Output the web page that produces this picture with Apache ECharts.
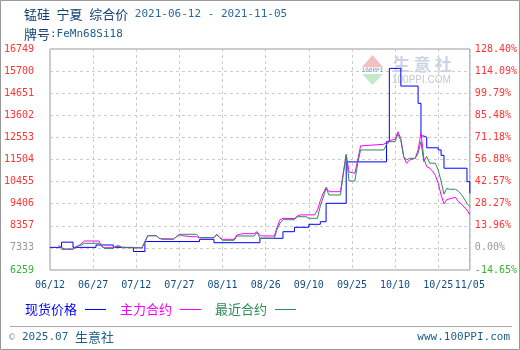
<!DOCTYPE html>
<html><head><meta charset="utf-8">
<script src="https://cdn.jsdelivr.net/npm/echarts@6/dist/echarts.min.js"></script>
<style>html,body{margin:0;padding:0;background:#fff}#c{width:520px;height:350px}</style>
</head><body><div id="c"></div>
<script>
// ---------- data ----------
const startDate = '2021-06-12';
const endDate = '2021-11-05';
const xTickLabels = ['06/12','06/27','07/12','07/27','08/11','08/26','09/10','09/25','10/10','10/25','11/05'];
const leftTickLabels = ['6259','7333','8357','9406','10455','11504','12553','13602','14651','15700','16749'];
const rightTickLabels = ['-14.65%','0.00%','13.96%','28.27%','42.57%','56.88%','71.18%','85.48%','99.79%','114.09%','128.40%'];
const seriesNames = ['现货价格','主力合约','最近合约'];

// 现货价格 (spot, stepped)
const spotDates = ['2021-06-12','2021-06-16','2021-06-20','2021-06-28','2021-07-04','2021-07-11','2021-07-15','2021-08-03','2021-08-08','2021-08-24','2021-09-01','2021-09-05','2021-09-10','2021-09-14','2021-09-16','2021-09-23','2021-10-07','2021-10-08','2021-10-12','2021-10-18','2021-10-19','2021-10-20','2021-10-21','2021-10-25','2021-10-26','2021-10-27','2021-11-04','2021-11-05'];
const spotPrices = [7333,7580,7333,7446,7333,7137,7610,7716,7555,7764,8077,8286,8428,8552,9425,11390,12350,15830,14990,14170,12620,12560,12060,11955,11700,11090,10450,9900];

// 主力合约 (main contract)
const mainDates = ['2021-06-15','2021-06-16','2021-06-17','2021-06-20','2021-06-21','2021-06-22','2021-06-24','2021-06-29','2021-06-30','2021-07-01','2021-07-04','2021-07-06','2021-07-07','2021-07-11','2021-07-14','2021-07-16','2021-07-19','2021-07-20','2021-07-21','2021-07-25','2021-07-26','2021-07-27','2021-07-28','2021-07-31','2021-08-02','2021-08-03','2021-08-08','2021-08-09','2021-08-10','2021-08-11','2021-08-15','2021-08-16','2021-08-18','2021-08-22','2021-08-23','2021-08-24','2021-08-25','2021-08-29','2021-08-30','2021-08-31','2021-09-01','2021-09-05','2021-09-06','2021-09-07','2021-09-12','2021-09-13','2021-09-14','2021-09-15','2021-09-16','2021-09-17','2021-09-21','2021-09-22','2021-09-23','2021-09-24','2021-09-26','2021-09-27','2021-09-28','2021-10-06','2021-10-07','2021-10-08','2021-10-10','2021-10-11','2021-10-12','2021-10-13','2021-10-14','2021-10-15','2021-10-17','2021-10-18','2021-10-19','2021-10-20','2021-10-21','2021-10-22','2021-10-23','2021-10-24','2021-10-25','2021-10-26','2021-10-27','2021-10-28','2021-10-31','2021-11-01','2021-11-02','2021-11-03','2021-11-04','2021-11-05'];
const mainPrices = [7413,7330,7256,7256,7330,7413,7636,7636,7370,7318,7318,7400,7318,7318,7318,7887,7887,7764,7740,7740,7830,7930,7890,7840,7840,7792,7792,7954,7800,7716,7716,7920,7982,7982,8077,7900,7873,7873,8300,8650,8713,8700,8820,8876,8876,9107,9550,9900,10185,9976,9976,10900,11751,10911,10849,11481,12150,12225,12300,12400,12463,12824,12500,11637,11324,11481,11561,11955,12748,11560,11166,11100,10950,10750,10380,9820,9400,9600,9710,9500,9400,9250,9107,8876];

// 最近合约 (nearest contract)
const nearDates = ['2021-06-15','2021-06-16','2021-06-20','2021-06-21','2021-06-23','2021-06-24','2021-06-29','2021-06-30','2021-07-01','2021-07-04','2021-07-05','2021-07-06','2021-07-07','2021-07-14','2021-07-15','2021-07-16','2021-07-19','2021-07-20','2021-07-21','2021-07-25','2021-07-26','2021-07-27','2021-08-02','2021-08-03','2021-08-08','2021-08-09','2021-08-10','2021-08-11','2021-08-15','2021-08-16','2021-08-22','2021-08-23','2021-08-24','2021-08-29','2021-08-30','2021-08-31','2021-09-01','2021-09-05','2021-09-06','2021-09-09','2021-09-10','2021-09-13','2021-09-14','2021-09-15','2021-09-16','2021-09-17','2021-09-21','2021-09-22','2021-09-23','2021-09-24','2021-09-26','2021-09-27','2021-09-28','2021-10-06','2021-10-07','2021-10-08','2021-10-10','2021-10-11','2021-10-12','2021-10-13','2021-10-14','2021-10-15','2021-10-17','2021-10-18','2021-10-19','2021-10-20','2021-10-21','2021-10-22','2021-10-24','2021-10-25','2021-10-26','2021-10-27','2021-10-28','2021-10-29','2021-10-31','2021-11-01','2021-11-02','2021-11-03','2021-11-04','2021-11-05'];
const nearPrices = [7413,7240,7240,7370,7450,7526,7526,7380,7283,7283,7400,7400,7335,7300,7600,7887,7887,7764,7716,7716,7850,7954,7954,7792,7792,7930,7792,7669,7669,7873,7873,8049,7764,7764,8200,8476,8647,8647,8789,8789,8713,8713,9300,9700,10137,9819,9819,10800,11718,10484,10484,11324,11955,11955,12200,12349,12349,12715,12400,11637,11481,11561,11561,11800,12349,11400,11650,11330,11324,11000,10480,9860,10137,10090,10090,10000,9850,9650,9420,9270];

// ---------- helpers ----------
function dayIndex(s){
  const p = s.split('-').map(Number), q = startDate.split('-').map(Number);
  return Math.round((Date.UTC(p[0],p[1]-1,p[2]) - Date.UTC(q[0],q[1]-1,q[2])) / 86400000);
}
const xMax = dayIndex(endDate);
const xTickDays = xTickLabels.map(l => dayIndex('2021-' + l.replace('/','-')));
const yMin = Number(leftTickLabels[0]);
const yMax = Number(leftTickLabels[leftTickLabels.length-1]);
const yStep = (yMax - yMin) / (leftTickLabels.length - 1);
function pairs(dates, vals){ return dates.map((d,i)=>[dayIndex(d), vals[i]]); }
function yIdx(v){ return Math.round((Number(v) - yMin) / yStep); }

const MONO = "'DejaVu Sans Mono','Liberation Mono',monospace";
const CJK = "'Noto Sans CJK SC','Noto Sans',sans-serif";
const labRich = {
  r:{color:'#ff3333', fontFamily:MONO, fontSize:10},
  k:{color:'#999999', fontFamily:MONO, fontSize:10},
  g:{color:'#33b533', fontFamily:MONO, fontSize:10}
};
function styleKey(i){ return i===0 ? 'g' : (i===1 ? 'k' : 'r'); }

const chart = echarts.init(document.getElementById('c'), null, {renderer:'canvas'});
chart.setOption({
  animation:false,
  backgroundColor:'#ffffff',
  title:[
    {left:24, top:4, padding:0, text:'{a|锰硅}{s| }{a|宁夏}{s| }{a|综合价}{b| 2021-06-12 - 2021-11-05}',
     textStyle:{fontWeight:'normal', rich:{a:{fontFamily:CJK,fontSize:13,fontWeight:'normal',color:'#0e3f70',lineHeight:20},
                      s:{fontFamily:MONO,fontSize:11,fontWeight:'normal',color:'#0e3f70',lineHeight:20},
                      b:{fontFamily:MONO,fontSize:11,fontWeight:'normal',color:'#2a6aa0',lineHeight:20}}}},
    {left:24, top:24, padding:0, text:'{a|牌号}{b|:FeMn68Si18}',
     textStyle:{fontWeight:'normal', rich:{a:{fontFamily:CJK,fontSize:13,fontWeight:'normal',color:'#0e3f70',lineHeight:20},
                      b:{fontFamily:MONO,fontSize:11,fontWeight:'normal',color:'#1f5a8e',lineHeight:20}}}}
  ],
  grid:{left:50, right:50, top:49, bottom:80, show:true, borderColor:'#999', borderWidth:1, backgroundColor:'transparent'},
  legend:{
    left:25, top:303, padding:0, align:'right', icon:'rect', itemWidth:21, itemHeight:1, itemGap:14,
    textStyle:{fontFamily:CJK, fontSize:13, padding:[0,3,0,0]},
    data:[
      {name:seriesNames[0], textStyle:{color:'#0000ff'}},
      {name:seriesNames[1], textStyle:{color:'#ff00ff'}},
      {name:seriesNames[2], textStyle:{color:'#2e8b57'}}
    ]
  },
  xAxis:{
    type:'value', min:0, max:xMax, interval:15,
    axisLine:{show:false}, axisTick:{show:false},
    splitLine:{show:true, lineStyle:{color:'#cccccc', type:[3,3], width:1}},
    axisLabel:{margin:10, color:'#134d84', fontFamily:MONO, fontSize:10,
      formatter:v => { const i = xTickDays.indexOf(Math.round(v)); return i>=0 ? xTickLabels[i] : ''; }}
  },
  yAxis:[
    {type:'value', position:'left', min:yMin, max:yMax, interval:yStep,
     axisLine:{show:false}, axisTick:{show:false},
     splitLine:{show:true, lineStyle:{color:'#cccccc', type:[3,3], width:1}},
     axisLabel:{margin:16, rich:labRich,
       formatter:v => { const i = yIdx(v); return '{' + styleKey(i) + '|' + leftTickLabels[i] + '}'; }}},
    {type:'value', position:'right', min:yMin, max:yMax, interval:yStep,
     axisLine:{show:false}, axisTick:{show:false}, splitLine:{show:false},
     axisLabel:{margin:5, rich:labRich,
       formatter:v => { const i = yIdx(v); return '{' + styleKey(i) + '|' + rightTickLabels[i] + '}'; }}}
  ],
  graphic:[
    {type:'rect', silent:true, z:0, shape:{x:0.5,y:0.5,width:519,height:349}, style:{fill:null, stroke:'#999999', lineWidth:1}},
    {type:'line', silent:true, shape:{x1:10,y1:326.5,x2:512,y2:326.5}, style:{stroke:'#aaaaaa', lineWidth:1}},
    {type:'text', silent:true, x:9, y:337, style:{text:'©', font:"10px "+MONO, fill:'#8ea0b8', textVerticalAlign:'middle'}},
    {type:'text', silent:true, x:22, y:337, style:{text:'2025.07', font:"11px "+MONO, fill:'#1f5f8b', textVerticalAlign:'middle'}},
    {type:'text', silent:true, x:75, y:337, style:{text:'生意社', font:"13px "+CJK, fill:'#1f5f8b', textVerticalAlign:'middle'}},
    {type:'text', silent:true, x:510, y:337, style:{text:'www.100PPI.com', font:"11px "+MONO, fill:'#1f5f8b', textAlign:'right', textVerticalAlign:'middle'}},
    // watermark logo
    {type:'polygon', silent:true, z:1, shape:{points:[[362,67],[372.5,55],[383,67]]}, style:{fill:'#f6c0c0'}},
    {type:'text', silent:true, z:1, x:372.5, y:70.5, style:{text:'100PPI', font:"6px "+MONO, fill:'#8090b8', textAlign:'center', textVerticalAlign:'middle'}},
    {type:'polygon', silent:true, z:1, shape:{points:[[362,74],[383,74],[372.5,85]]}, style:{fill:'#c4e8ca'}},
    {type:'text', silent:true, z:1, x:393, y:65, style:{text:'生 意 社', font:"bold 17px "+CJK, fill:'#ccd3e6', textVerticalAlign:'middle'}},
    {type:'text', silent:true, z:1, x:392, y:80, style:{text:'100PPI.COM', font:"10px 'Liberation Sans',sans-serif", fill:'#c8c8c8', textVerticalAlign:'middle'}}
  ],
  series:[
    {name:seriesNames[0], type:'line', step:'end', data:pairs(spotDates, spotPrices), symbol:'none',
     lineStyle:{color:'#0000ff', width:1}, itemStyle:{color:'#0000ff'}, z:3},
    {name:seriesNames[1], type:'line', data:pairs(mainDates, mainPrices), symbol:'none',
     lineStyle:{color:'#ff00ff', width:1}, itemStyle:{color:'#ff00ff'}, z:3},
    {name:seriesNames[2], type:'line', data:pairs(nearDates, nearPrices), symbol:'none',
     lineStyle:{color:'#2e8b57', width:1}, itemStyle:{color:'#2e8b57'}, z:3}
  ]
});
</script></body></html>
